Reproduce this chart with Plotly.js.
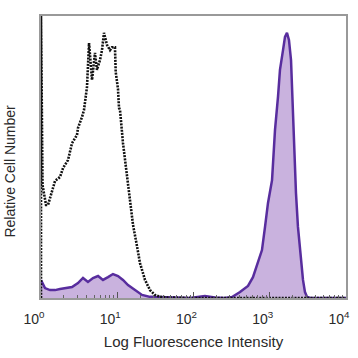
<!DOCTYPE html>
<html>
<head>
<meta charset="utf-8">
<script src="https://cdn.plot.ly/plotly-3.0.1.min.js"></script>
<style>html,body{margin:0;padding:0;background:#fff;}#chart{width:358px;height:358px;}</style>
</head>
<body>
<div id="chart"></div>
<script>
// Isotype control (black dotted): log10 intensity, relative count
const isoLog = [0, 0, 0.02, 0.066, 0.092, 0.144, 0.184, 0.249, 0.289, 0.354, 0.407, 0.472, 0.485, 0.538, 0.564, 0.603, 0.63, 0.669, 0.708, 0.734, 0.774, 0.8, 0.826, 0.866, 0.905, 0.931, 0.97, 0.98, 1.01, 1.023, 1.036, 1.075, 1.115, 1.154, 1.18, 1.207, 1.259, 1.298, 1.364, 1.43, 1.495, 1.56, 1.65, 2.0, 4.0];
const isoVal = [0, 100, 40, 33, 33, 37.6, 41.5, 42.9, 46.1, 48.9, 54.9, 57.8, 60.3, 64.2, 66.7, 74.8, 90.4, 77.3, 86.9, 80.9, 84.4, 87.9, 94, 89.7, 87.9, 88.9, 88.9, 80.1, 74.1, 67.4, 66.7, 55, 46.5, 38.3, 31, 25.9, 18.4, 12.4, 6.4, 2.8, 1.1, 0.4, 0.2, 0, 0];
// Antibody stained (purple filled)
const stainLog = [0, 0.026, 0.052, 0.118, 0.184, 0.249, 0.315, 0.407, 0.485, 0.551, 0.616, 0.682, 0.748, 0.813, 0.879, 0.944, 1.01, 1.075, 1.141, 1.233, 1.325, 1.43, 1.626, 1.954, 2.15, 2.28, 2.41, 2.505, 2.61, 2.715, 2.78, 2.846, 2.898, 2.938, 2.977, 3.03, 3.069, 3.108, 3.134, 3.174, 3.2, 3.226, 3.252, 3.279, 3.292, 3.305, 3.318, 3.344, 3.37, 3.41, 3.436, 3.462, 3.489, 3.53, 4.0];
const stainVal = [6.4, 5.0, 3.5, 2.8, 2.8, 3.2, 3.5, 3.9, 5.3, 7.1, 5.7, 7.1, 7.8, 6.4, 7.4, 8.5, 7.8, 6.4, 4.6, 2.8, 1.1, 0.4, 0.2, 0, 0.7, 0.2, 0, 0.35, 2.1, 4.3, 7.4, 12.4, 17, 25.2, 33.7, 41.8, 59.6, 71.3, 80.9, 87.9, 92.6, 94, 91.5, 84.4, 74.8, 63.1, 51.4, 37.2, 25.2, 13.5, 6.4, 2.1, 0.4, 0, 0];
const tickVals = [1, 10, 100, 1000, 10000];
const tickText = ["10<sup>0</sup>", "10<sup>1</sup>", "10<sup>2</sup>", "10<sup>3</sup>", "10<sup>4</sup>"];

const toLin = a => a.map(v => Math.pow(10, v));

const traces = [
  {
    x: toLin(stainLog), y: stainVal, type: 'scatter', mode: 'lines',
    fill: 'tozeroy', fillcolor: 'rgb(201,178,222)',
    line: {color: 'rgb(88,45,158)', width: 2.5}, hoverinfo: 'skip'
  },
  {
    x: toLin(isoLog), y: isoVal, type: 'scatter', mode: 'lines',
    line: {color: '#111', width: 2.6, dash: '2px,1.2px'}, hoverinfo: 'skip'
  }
];

const layout = {
  width: 358, height: 358,
  margin: {l: 41, r: 12, t: 16, b: 60},
  paper_bgcolor: '#fff', plot_bgcolor: '#fff',
  showlegend: false,
  font: {family: 'Liberation Sans, Arial, sans-serif', color: '#2a2a2a'},
  xaxis: {
    type: 'log', range: [0, 4],
    tickvals: tickVals, ticktext: tickText,
    ticks: 'inside', ticklen: 6, tickwidth: 1.3, tickcolor: '#555',
    minor: {ticks: 'inside', ticklen: 3.5, tickwidth: 1, tickcolor: '#666', dtick: 'D1'},
    tickfont: {size: 14, color: '#2a2a2a'},
    ticklabelshift: -7,
    ticklabelstandoff: 7,
    showline: true, linecolor: '#999', linewidth: 2.4, mirror: true,
    showgrid: false, zeroline: false,
    title: {text: 'Log Fluorescence Intensity', font: {size: 15, color: '#2a2a2a'}, standoff: 10}
  },
  yaxis: {
    range: [0, 100],
    showticklabels: false, ticks: '',
    showline: true, linecolor: '#999', linewidth: 2.4, mirror: true,
    showgrid: false, zeroline: false
  },
  annotations: [{
    text: 'Relative Cell Number', textangle: -90,
    xref: 'paper', yref: 'paper', x: -0.1, y: 0.45,
    xanchor: 'center', yanchor: 'middle', showarrow: false,
    font: {size: 14, color: '#2a2a2a'}
  }]
};

Plotly.newPlot('chart', traces, layout, {staticPlot: true, displayModeBar: false});
</script>
</body>
</html>
